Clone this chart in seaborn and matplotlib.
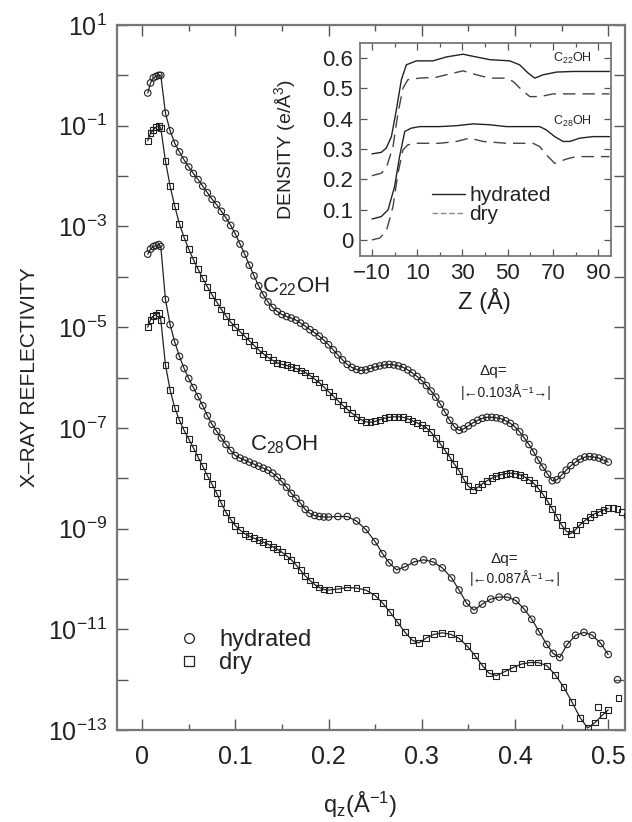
import numpy as np
import matplotlib
matplotlib.use("Agg")
import matplotlib.pyplot as plt
import matplotlib.ticker as mticker
from matplotlib.lines import Line2D
import seaborn as sns

# %% Datos (exponentes log10 de la reflectividad)

# region critica (q muy chico)
q_crit = [0.006, 0.009, 0.012, 0.015, 0.018]
c22_hyd_crit = [-0.35, -0.15, -0.05, -0.02, 0.0]
c22_dry_crit = [-1.30, -1.15, -1.08, -1.03, -1.00]
c28_hyd_crit = [-3.55, -3.45, -3.40, -3.38, -3.36]
c28_dry_crit = [-5.00, -4.85, -4.78, -4.75, -4.72]

q_c22 = [0.020, 0.025, 0.030, 0.035, 0.040, 0.045, 0.050, 0.055, 0.060, 0.065,
         0.070, 0.075, 0.080, 0.085, 0.090, 0.095, 0.100, 0.105, 0.110, 0.115,
         0.120, 0.125, 0.130, 0.135, 0.140, 0.145, 0.150, 0.155, 0.160, 0.165,
         0.170, 0.175, 0.180, 0.185, 0.190, 0.195, 0.200, 0.205, 0.210, 0.215,
         0.220, 0.225, 0.230, 0.235, 0.240, 0.245, 0.250, 0.255, 0.260, 0.265,
         0.270, 0.275, 0.280, 0.285, 0.290, 0.295, 0.300, 0.305, 0.310, 0.315,
         0.320, 0.325, 0.330, 0.335, 0.340, 0.345, 0.350, 0.355, 0.360, 0.365,
         0.370, 0.375, 0.380, 0.385, 0.390, 0.395, 0.400, 0.405, 0.410, 0.415,
         0.420, 0.425, 0.430, 0.435, 0.440, 0.445, 0.450, 0.455, 0.460, 0.465,
         0.470, 0.475, 0.480, 0.485, 0.490, 0.495, 0.500, 0.505, 0.510, 0.515,
         0.520]

c22_hyd = [0.00, -0.75, -1.10, -1.35, -1.52, -1.68, -1.82, -1.95, -2.07, -2.20,
           -2.33, -2.46, -2.57, -2.70, -2.83, -2.98, -3.15, -3.35, -3.55, -3.77,
           -3.98, -4.18, -4.36, -4.50, -4.61, -4.69, -4.75, -4.79, -4.82, -4.86,
           -4.92, -4.98, -5.05, -5.11, -5.18, -5.26, -5.35, -5.45, -5.55, -5.65,
           -5.74, -5.80, -5.84, -5.86, -5.85, -5.82, -5.79, -5.77, -5.75, -5.74,
           -5.75, -5.77, -5.80, -5.85, -5.91, -5.98, -6.06, -6.16, -6.27, -6.39,
           -6.53, -6.69, -6.85, -6.98, -7.05, -7.02, -6.96, -6.90, -6.85, -6.81,
           -6.79, -6.79, -6.80, -6.82, -6.86, -6.91, -6.98, -7.08, -7.20, -7.33,
           -7.48, -7.64, -7.78, -7.92, -8.05, -8.03, -7.94, -7.84, -7.75, -7.68,
           -7.62, -7.58, -7.57, -7.58, -7.60, -7.64, -7.68]

c22_dry = [-1.05, -1.70, -2.20, -2.60, -2.95, -3.22, -3.45, -3.66, -3.85, -4.03,
           -4.20, -4.36, -4.50, -4.65, -4.78, -4.90, -5.00, -5.09, -5.18, -5.27,
           -5.36, -5.45, -5.53, -5.60, -5.66, -5.71, -5.74, -5.76, -5.79, -5.82,
           -5.86, -5.90, -5.96, -6.03, -6.10, -6.19, -6.28, -6.37, -6.46, -6.55,
           -6.63, -6.71, -6.78, -6.84, -6.88, -6.89, -6.87, -6.84, -6.81, -6.79,
           -6.78, -6.78, -6.79, -6.82, -6.86, -6.90, -6.95, -7.00, -7.09, -7.20,
           -7.32, -7.45, -7.58, -7.72, -7.85, -8.02, -8.16, -8.23, -8.18, -8.11,
           -8.05, -8.00, -7.96, -7.93, -7.91, -7.90, -7.91, -7.93, -7.97, -8.03,
           -8.10, -8.20, -8.32, -8.46, -8.61, -8.77, -8.93, -9.05, -9.10, -9.02,
           -8.92, -8.84, -8.77, -8.71, -8.67, -8.63, -8.60, -8.59, -8.61, -8.67,
           -8.74]

q_c28_hyd = [0.020, 0.025, 0.030, 0.035, 0.040, 0.045, 0.050, 0.055, 0.060, 0.065,
             0.070, 0.075, 0.080, 0.085, 0.090, 0.095, 0.100, 0.105, 0.110, 0.115,
             0.120, 0.125, 0.130, 0.135, 0.140, 0.145, 0.150, 0.155, 0.160, 0.165,
             0.170, 0.175, 0.180, 0.185, 0.190, 0.195, 0.200, 0.210, 0.220, 0.230,
             0.240, 0.250, 0.258, 0.265, 0.273, 0.282, 0.292, 0.302, 0.312, 0.322,
             0.332, 0.340, 0.348, 0.356, 0.365, 0.374, 0.383, 0.392, 0.401, 0.410,
             0.418, 0.426, 0.434, 0.441, 0.448, 0.456, 0.465, 0.474, 0.483, 0.492,
             0.500]
c28_hyd = [-3.40, -4.45, -4.95, -5.30, -5.58, -5.82, -6.02, -6.20, -6.38, -6.56,
           -6.76, -6.93, -7.07, -7.20, -7.33, -7.45, -7.55, -7.60, -7.64, -7.68,
           -7.72, -7.76, -7.80, -7.84, -7.90, -7.98, -8.07, -8.18, -8.30, -8.40,
           -8.50, -8.62, -8.70, -8.74, -8.76, -8.77, -8.77, -8.76, -8.76, -8.85,
           -9.02, -9.26, -9.50, -9.68, -9.82, -9.76, -9.66, -9.62, -9.66, -9.78,
           -9.98, -10.22, -10.48, -10.62, -10.50, -10.40, -10.36, -10.36, -10.43, -10.60,
           -10.80, -11.05, -11.30, -11.48, -11.56, -11.30, -11.12, -11.06, -11.12, -11.28,
           -11.50]

q_c28_dry = [0.020, 0.025, 0.030, 0.035, 0.040, 0.045, 0.050, 0.055, 0.060, 0.065,
             0.070, 0.075, 0.080, 0.085, 0.090, 0.095, 0.100, 0.105, 0.110, 0.115,
             0.120, 0.125, 0.130, 0.135, 0.140, 0.145, 0.150, 0.155, 0.160, 0.165,
             0.170, 0.175, 0.180, 0.185, 0.190, 0.195, 0.200, 0.210, 0.220, 0.230,
             0.240, 0.250, 0.258, 0.266, 0.274, 0.282, 0.290, 0.297, 0.305, 0.313,
             0.322, 0.331, 0.340, 0.349, 0.357, 0.365, 0.372, 0.380, 0.389, 0.398,
             0.407, 0.416, 0.425, 0.434, 0.443, 0.452, 0.461, 0.470, 0.478, 0.486,
             0.494, 0.500]
c28_dry = [-4.85, -5.75, -6.25, -6.60, -6.85, -7.05, -7.22, -7.40, -7.58, -7.76,
           -7.95, -8.12, -8.30, -8.50, -8.68, -8.82, -8.94, -9.03, -9.10, -9.15,
           -9.19, -9.23, -9.27, -9.31, -9.36, -9.41, -9.47, -9.54, -9.62, -9.72,
           -9.83, -9.94, -10.03, -10.11, -10.17, -10.21, -10.22, -10.20, -10.17, -10.18,
           -10.22, -10.33, -10.48, -10.66, -10.86, -11.06, -11.22, -11.27, -11.17, -11.10,
           -11.07, -11.10, -11.18, -11.34, -11.52, -11.72, -11.87, -11.92, -11.84, -11.76,
           -11.69, -11.66, -11.66, -11.72, -11.90, -12.14, -12.44, -12.76, -12.96, -12.85,
           -12.70, -12.60]

# puntos sueltos al final (fuera del ajuste)
q_extra_hyd = [0.510]
c28_hyd_extra = [-12.00]
q_extra_dry = [0.489, 0.511]
c28_dry_extra = [-12.55, -12.36]

# inset: perfiles de densidad electronica
z_c22_hyd = [-10, -5.9, -3.7, -1.4, 0.8, 3.0, 5.2, 9.6, 17, 22.9, 30.3, 34.7, 42.1,
             50.9, 55.3, 59, 62, 65.7, 71.6, 79, 95]
rho_c22_hyd = [0.284, 0.289, 0.303, 0.341, 0.430, 0.529, 0.578, 0.591, 0.591, 0.604,
               0.613, 0.606, 0.595, 0.591, 0.578, 0.551, 0.534, 0.545, 0.554, 0.556, 0.556]
z_c22_dry = [-10, -5.9, -3.7, -0.7, 1.5, 3.7, 5.9, 11.1, 18.5, 24.4, 30.3, 36.2, 42.1,
             49.4, 52.4, 56.1, 59.8, 64.2, 70.1, 79, 95]
rho_c22_dry = [0.212, 0.220, 0.237, 0.308, 0.418, 0.501, 0.529, 0.534, 0.537, 0.548,
               0.558, 0.545, 0.534, 0.534, 0.523, 0.496, 0.473, 0.473, 0.482, 0.482, 0.482]
z_c28_hyd = [-10, -5.9, -2.9, 0, 2.2, 4.5, 7.4, 11.1, 20, 27.3, 34.7, 42.1, 49.4,
             64.2, 67.1, 70.8, 74.5, 77.5, 81.9, 87.8, 95]
rho_c28_hyd = [0.069, 0.077, 0.099, 0.176, 0.275, 0.358, 0.369, 0.374, 0.374, 0.377,
               0.383, 0.380, 0.374, 0.374, 0.363, 0.341, 0.325, 0.325, 0.336, 0.341, 0.341]
z_c28_dry = [-10, -6.6, -3.7, -0.7, 1.5, 3.7, 5.9, 9.6, 20, 27.3, 33.2, 39.1, 49.4,
             61.2, 64.2, 67.1, 70.8, 76, 80.4, 95]
rho_c28_dry = [0.000, 0.006, 0.028, 0.110, 0.220, 0.297, 0.314, 0.319, 0.319, 0.325,
               0.336, 0.325, 0.319, 0.319, 0.308, 0.281, 0.253, 0.267, 0.275, 0.275]

# %% Estilo

sns.set_theme(style="ticks")
plt.rcParams["font.family"] = ["Liberation Sans", "DejaVu Sans"]
plt.rcParams["mathtext.fontset"] = "custom"
plt.rcParams["mathtext.rm"] = "Liberation Sans"
plt.rcParams["mathtext.it"] = "Liberation Sans:italic"
plt.rcParams["mathtext.bf"] = "Liberation Sans:bold"
plt.rcParams["mathtext.default"] = "regular"

INK = "#222222"
SPINE = "#777777"

fig = plt.figure(figsize=(6.32, 8.22), dpi=100)
ax = fig.add_axes([0.1851, 0.1119, 0.8038, 0.8577])
ax.set_yscale("log")


def curva(q_crit_, crit, q, vals, marcador, tam):
    qq = np.array(q_crit_ + q)
    rr = 10.0 ** np.array(crit + vals)
    linea = qq <= 0.5005
    sns.lineplot(x=qq[linea], y=rr[linea], ax=ax, color=INK, lw=0.9,
                 sort=False, estimator=None, zorder=2)
    sns.scatterplot(x=qq, y=rr, ax=ax, marker=marcador, s=tam, facecolors="none",
                    edgecolor=INK, linewidth=0.8, zorder=3)


curva(q_crit, c22_hyd_crit, q_c22[:len(c22_hyd)], c22_hyd, "o", 22)
curva(q_crit, c22_dry_crit, q_c22, c22_dry, "s", 18)
curva(q_crit, c28_hyd_crit, q_c28_hyd, c28_hyd, "o", 22)
curva(q_crit, c28_dry_crit, q_c28_dry, c28_dry, "s", 18)

sns.scatterplot(x=q_extra_hyd, y=10.0 ** np.array(c28_hyd_extra), ax=ax, marker="o",
                s=22, facecolors="none", edgecolor=INK, linewidth=0.8, zorder=3)
sns.scatterplot(x=q_extra_dry, y=10.0 ** np.array(c28_dry_extra), ax=ax, marker="s",
                s=18, facecolors="none", edgecolor=INK, linewidth=0.8, zorder=3)

ax.set_xlim(-0.027, 0.518)
ax.set_ylim(1e-13, 1e1)
ax.xaxis.set_major_locator(mticker.FixedLocator([0, 0.1, 0.2, 0.3, 0.4, 0.5]))
ax.xaxis.set_minor_locator(mticker.FixedLocator([0.05, 0.15, 0.25, 0.35, 0.45]))
ax.xaxis.set_major_formatter(mticker.FuncFormatter(lambda v, p: "0" if abs(v) < 1e-9 else f"{v:.1f}"))
ax.yaxis.set_major_locator(mticker.FixedLocator([10.0 ** k for k in range(-13, 2, 2)]))
ax.yaxis.set_minor_locator(mticker.FixedLocator([10.0 ** k for k in range(-12, 1, 2)]))
ax.yaxis.set_minor_formatter(mticker.NullFormatter())
ax.tick_params(which="both", direction="in", top=True, right=True, color="#555555",
               labelcolor=INK, width=1.0)
ax.tick_params(axis="y", which="both", length=8, labelsize=18, pad=7)
ax.tick_params(axis="x", which="major", length=8, labelsize=18, pad=11)
ax.tick_params(axis="x", which="minor", length=4)
for s in ax.spines.values():
    s.set_color(SPINE)
    s.set_linewidth(1.6)

ax.set_xlabel("q$_z$(Å$^{-1}$)", fontsize=17, color=INK)
ax.xaxis.set_label_coords(0.478, -0.085)
ax.set_ylabel("X–RAY REFLECTIVITY", fontsize=15, color=INK)
ax.yaxis.set_label_coords(-0.153, 0.5)

# rotulos
ax.text(0.129, 10 ** -4.32, "C$_{22}$OH", fontsize=16, color=INK, ha="left", va="baseline")
ax.text(0.116, 10 ** -7.44, "C$_{28}$OH", fontsize=16, color=INK, ha="left", va="baseline")
ax.text(0.377, 10 ** -5.87, "Δq=", fontsize=11, color=INK, ha="center", va="center")
ax.text(0.391, 10 ** -6.29, "|←0.103Å⁻¹→|", fontsize=10, color=INK, ha="center", va="center")
ax.text(0.389, 10 ** -9.60, "Δq=", fontsize=11, color=INK, ha="center", va="center")
ax.text(0.400, 10 ** -9.98, "|←0.087Å⁻¹→|", fontsize=10, color=INK, ha="center", va="center")

manejadores = [
    Line2D([], [], ls="none", marker="o", mfc="none", mec=INK, ms=7, mew=0.9),
    Line2D([], [], ls="none", marker="s", mfc="none", mec=INK, ms=6.5, mew=0.9),
]
ax.legend(manejadores, ["hydrated", "dry"], loc="center left",
          bbox_to_anchor=(0.118, 0.111), frameon=False, fontsize=17,
          handlelength=1.0, handletextpad=0.8, labelspacing=0.05,
          borderpad=0, borderaxespad=0, labelcolor=INK)

# %% Inset de densidad

ax_in = fig.add_axes([0.5696, 0.6886, 0.3972, 0.2591])
ax_in.set_facecolor("white")
ax_in.set_zorder(5)
sns.lineplot(x=z_c22_hyd, y=rho_c22_hyd, ax=ax_in, color=INK, lw=1.0, sort=False, estimator=None)
sns.lineplot(x=z_c22_dry, y=rho_c22_dry, ax=ax_in, color="#444444", lw=1.0,
             linestyle=(0, (9, 5)), sort=False, estimator=None)
sns.lineplot(x=z_c28_hyd, y=rho_c28_hyd, ax=ax_in, color=INK, lw=1.0, sort=False, estimator=None)
sns.lineplot(x=z_c28_dry, y=rho_c28_dry, ax=ax_in, color="#444444", lw=1.0,
             linestyle=(0, (9, 5)), sort=False, estimator=None)

ax_in.set_xlim(-15.3, 95.7)
ax_in.set_ylim(-0.053, 0.65)
ax_in.xaxis.set_major_locator(mticker.FixedLocator([-10, 10, 30, 50, 70, 90]))
ax_in.xaxis.set_minor_locator(mticker.FixedLocator([0, 20, 40, 60, 80]))
ax_in.yaxis.set_major_locator(mticker.FixedLocator([0, 0.1, 0.2, 0.3, 0.4, 0.5, 0.6]))
ax_in.yaxis.set_major_formatter(mticker.FuncFormatter(lambda v, p: "0" if abs(v) < 1e-9 else f"{v:.1f}"))
ax_in.tick_params(which="both", direction="in", top=True, right=True, color="#555555",
                  labelcolor=INK, width=0.9, labelsize=16)
ax_in.tick_params(which="major", length=5)
ax_in.tick_params(which="minor", length=3)
ax_in.tick_params(axis="x", pad=5)
ax_in.tick_params(axis="y", pad=5)
for s in ax_in.spines.values():
    s.set_color(SPINE)
    s.set_linewidth(1.3)

ax_in.set_xlabel("Z (Å)", fontsize=17, color=INK)
ax_in.xaxis.set_label_coords(0.494, -0.15)
ax_in.set_ylabel("DENSITY (e/Å$^3$)", fontsize=14, color=INK)
ax_in.yaxis.set_label_coords(-0.245, 0.5)

ax_in.text(78.6, 0.600, "C$_{22}$OH", fontsize=9, color=INK, ha="center", va="center")
ax_in.text(78.6, 0.392, "C$_{28}$OH", fontsize=9, color=INK, ha="center", va="center")

lineas_in = [
    Line2D([], [], color=INK, lw=1.0),
    Line2D([], [], color="#888888", lw=1.0, ls=(0, (4, 2))),
]
ax_in.legend(lineas_in, ["hydrated", "dry"], loc="center left",
             bbox_to_anchor=(0.287, 0.239), frameon=False, fontsize=15,
             handlelength=1.6, handletextpad=0.2, labelspacing=0.0,
             borderpad=0, borderaxespad=0, labelcolor=INK)

fig.savefig("out.png", dpi=100)
